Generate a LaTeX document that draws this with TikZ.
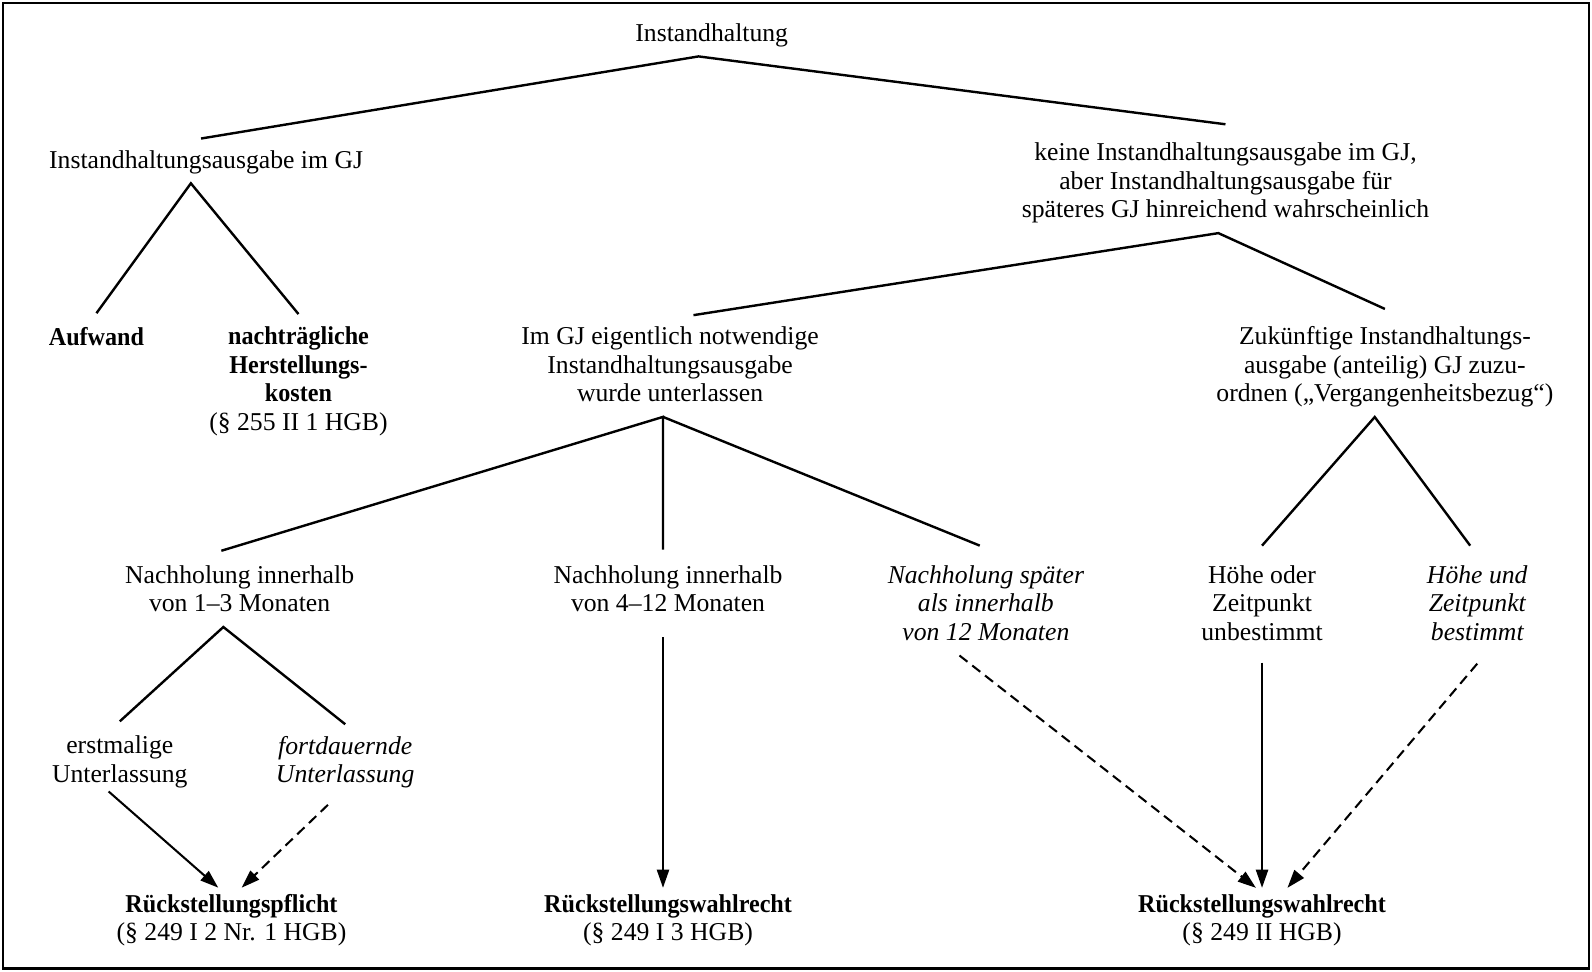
\documentclass[tikz,border=0pt]{standalone}
\usepackage{fontspec}
\setmainfont{Liberation Serif}[BoldFeatures={FakeStretch=0.94}]
\usetikzlibrary{arrows.meta}

\begin{document}
\begin{tikzpicture}[x=0.02cm,y=-0.02cm,
  every node/.style={align=center,inner xsep=2pt,inner ysep=3.5pt,
    font=\fontsize{14.4}{16}\selectfont,
    execute at begin node=\strut,execute at end node=\strut},
  ital/.style={font=\fontsize{14.4}{16}\selectfont\itshape},
  branch/.style={line width=1.35pt},
  arr/.style={-{Triangle[length=3.6mm,width=2.4mm]},line width=1.15pt},
  darr/.style={arr,dash pattern=on 2mm off 1.2mm}]
\useasboundingbox (0,0) rectangle (1568,957);
\draw[line width=1.4pt] (3,3) rectangle (1565,954);

% levels of the tree
\node (top) at (701,35) {Instandhaltung};
\node (gj) at (203,160) {Instandhaltungsausgabe im GJ};
\node (keine) at (1207,182) {keine Instandhaltungsausgabe im GJ,\\aber Instandhaltungsausgabe für\\späteres GJ hinreichend wahrscheinlich};
\node (aufwand) at (95,335) {\textbf{Aufwand}};
\node (herst) at (294,377) {\textbf{nachträgliche}\\\textbf{Herstellungs-}\\\textbf{kosten}\\(§ 255 II 1 HGB)};
\node (imgj) at (660,363) {Im GJ eigentlich notwendige\\Instandhaltungsausgabe\\wurde unterlassen};
\node (zuk) at (1364,363) {Zukünftige Instandhaltungs-\\ausgabe (anteilig) GJ zuzu-\\ordnen („Vergangenheitsbezug“)};
\node (n13) at (236,584) {Nachholung innerhalb\\von 1–3 Monaten};
\node (n412) at (658,584) {Nachholung innerhalb\\von 4–12 Monaten};
\node[ital] (spaet) at (971,598) {Nachholung später\\als innerhalb\\von 12 Monaten};
\node (hunb) at (1243,598) {Höhe oder\\Zeitpunkt\\unbestimmt};
\node[ital] (hbest) at (1455,598) {Höhe und\\Zeitpunkt\\bestimmt};
\node (erst) at (118,752) {erstmalige\\Unterlassung};
\node[ital] (fort) at (340,752) {fortdauernde\\Unterlassung};
\node (pflicht) at (228,908) {\textbf{Rückstellungspflicht}\\(§ 249 I 2 Nr. 1 HGB)};
\node (wahla) at (658,908) {\textbf{Rückstellungswahlrecht}\\(§ 249 I 3 HGB)};
\node (wahlb) at (1243,908) {\textbf{Rückstellungswahlrecht}\\(§ 249 II HGB)};

% branches
\draw[branch] ([xshift=-1mm,yshift=0.6mm]gj.north) -- ([xshift=-2.6mm]top.south) -- ([yshift=2.4mm]keine.north);
\draw[branch] ([yshift=1.2mm]aufwand.north) -- ([xshift=-3mm]gj.south) -- ([yshift=1.2mm]herst.north);
\draw[branch] ([xshift=4.6mm,yshift=1mm]imgj.north) -- ([xshift=-1.4mm]keine.south) -- ([yshift=2.2mm]zuk.north);
\draw[branch] ([xshift=-3.6mm,yshift=1.6mm]n13.north) -- ([xshift=-1.4mm]imgj.south) -- ([xshift=-1mm,yshift=1.8mm]n412.north);
\draw[branch] ([xshift=-1.4mm]imgj.south) -- ([xshift=-1.2mm,yshift=2.6mm]spaet.north);
\draw[branch] ([yshift=2.6mm]hunb.north) -- ([xshift=-2mm]zuk.south) -- ([xshift=-1.4mm,yshift=2.6mm]hbest.north);
\draw[branch] ([yshift=1.6mm]erst.north) -- ([xshift=-3.2mm]n13.south) -- ([yshift=1mm]fort.north);

% consequences
\draw[arr] ([xshift=-2.2mm,yshift=1.2mm]erst.south) -- ([xshift=-2.6mm]pflicht.north);
\draw[darr] ([xshift=-3.4mm,yshift=-1.4mm]fort.south) -- ([xshift=2mm]pflicht.north);
\draw[arr] ([xshift=-1mm,yshift=-2mm]n412.south) -- ([xshift=-1mm]wahla.north);
\draw[darr] ([xshift=-5.2mm]spaet.south) -- ([xshift=-1.2mm]wahlb.north);
\draw[arr] ([yshift=-1.4mm]hunb.south) -- (wahlb.north);
\draw[darr] ([yshift=-1.6mm]hbest.south) -- ([xshift=5mm]wahlb.north);
\end{tikzpicture}
\end{document}
